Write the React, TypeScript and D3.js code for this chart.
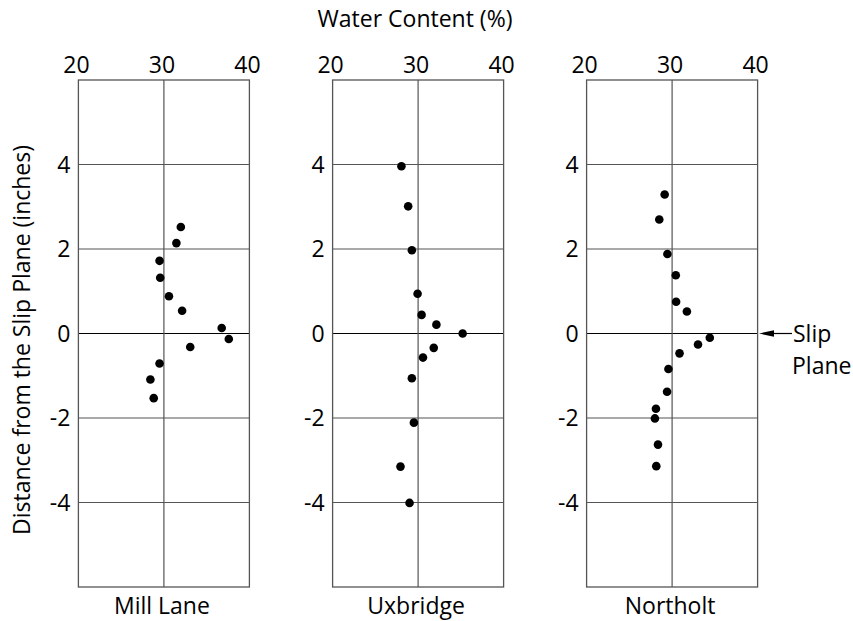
import React from "react";
import * as d3 from "d3";

// Site names, one panel each
const sites = ["Mill Lane", "Uxbridge", "Northolt"];

// Water content (%) and distance from slip plane (inches) for each site
const millLaneWater = [31.98, 31.46, 29.49, 29.57, 30.59, 32.13, 36.76, 37.59, 33.08, 29.49, 28.42, 28.81];
const millLaneDist = [2.52, 2.14, 1.72, 1.32, 0.88, 0.54, 0.13, -0.13, -0.32, -0.71, -1.09, -1.53];

const uxbridgeWater = [28.05, 28.84, 29.27, 29.94, 30.41, 32.14, 35.21, 31.83, 30.57, 29.27, 29.51, 27.94, 29.0];
const uxbridgeDist = [3.96, 3.01, 1.97, 0.94, 0.44, 0.21, 0.0, -0.34, -0.57, -1.06, -2.11, -3.15, -4.01];

const northoltWater = [29.13, 28.5, 29.45, 30.43, 30.47, 31.73, 34.41, 33.03, 30.87, 29.57, 29.41, 28.11, 27.99, 28.35, 28.15];
const northoltDist = [3.29, 2.7, 1.88, 1.38, 0.75, 0.52, -0.1, -0.26, -0.47, -0.84, -1.38, -1.78, -2.01, -2.63, -3.14];

const waterSeries = [millLaneWater, uxbridgeWater, northoltWater];
const distSeries = [millLaneDist, uxbridgeDist, northoltDist];

// Axis ticks
const xTicks = [20, 30, 40];
const yTicks = [-4, -2, 0, 2, 4];
const xDomain: [number, number] = [20, 40];
const yDomain: [number, number] = [-6, 6];

const WIDTH = 853;
const HEIGHT = 621;
const FONT = "'Open Sans', sans-serif";
const FS = 23;

const panelLeft = [78.4, 332.6, 586.6];
const panelWidth = 171;
const panelTop = 80;
const panelBottom = 587;

export default function App() {
  const y = d3.scaleLinear().domain(yDomain).range([panelBottom, panelTop]);

  return (
    <svg
      width={WIDTH}
      height={HEIGHT}
      style={{ position: "absolute", left: 0, top: 0, background: "#fff" }}
      fontFamily={FONT}
    >
      <text x={415} y={27} textAnchor="middle" fontSize={FS} fill="#000">
        Water Content (%)
      </text>
      <text
        transform={`translate(30,340) rotate(-90)`}
        textAnchor="middle"
        fontSize={FS}
        fill="#000"
      >
        Distance from the Slip Plane (inches)
      </text>

      {sites.map((site, i) => {
        const x = d3
          .scaleLinear()
          .domain(xDomain)
          .range([panelLeft[i], panelLeft[i] + panelWidth]);
        const water = waterSeries[i];
        const dist = distSeries[i];
        return (
          <g key={site}>
            {/* horizontal grid */}
            {yTicks.map((t) => (
              <line
                key={`h${t}`}
                x1={x(20)}
                x2={x(40)}
                y1={y(t)}
                y2={y(t)}
                stroke={t === 0 ? "#000" : "#555"}
                strokeWidth={1.2}
              />
            ))}
            {/* vertical grid at 30 */}
            <line
              x1={x(30)}
              x2={x(30)}
              y1={panelTop}
              y2={panelBottom}
              stroke="#555"
              strokeWidth={1.2}
            />
            <rect
              x={x(20)}
              y={panelTop}
              width={x(40) - x(20)}
              height={panelBottom - panelTop}
              fill="none"
              stroke="#555"
              strokeWidth={1.3}
            />
            {xTicks.map((t) => (
              <text
                key={`xt${t}`}
                x={x(t) - 2}
                y={73}
                textAnchor="middle"
                fontSize={FS}
                fill="#000"
              >
                {t}
              </text>
            ))}
            {yTicks.map((t) => (
              <text
                key={`yt${t}`}
                x={x(20) - 8}
                y={y(t)}
                dy="0.36em"
                textAnchor="end"
                fontSize={FS}
                fill="#000"
              >
                {t}
              </text>
            ))}
            {water.map((w, j) => (
              <circle key={j} cx={x(w)} cy={y(dist[j])} r={4.3} fill="#000" />
            ))}
            <text
              x={x(30) - 2}
              y={614}
              textAnchor="middle"
              fontSize={FS}
              fill="#000"
            >
              {site}
            </text>
          </g>
        );
      })}

      {/* slip plane marker */}
      <line x1={770} x2={792} y1={y(0)} y2={y(0)} stroke="#000" strokeWidth={1.2} />
      <path
        d={`M${759},${y(0)} L${774},${y(0) - 3.2} L${774},${y(0) + 3.2} Z`}
        fill="#000"
      />
      <text x={793} y={342} fontSize={FS} fill="#000">
        Slip
      </text>
      <text x={792} y={374} fontSize={FS} fill="#000">
        Plane
      </text>
    </svg>
  );
}
